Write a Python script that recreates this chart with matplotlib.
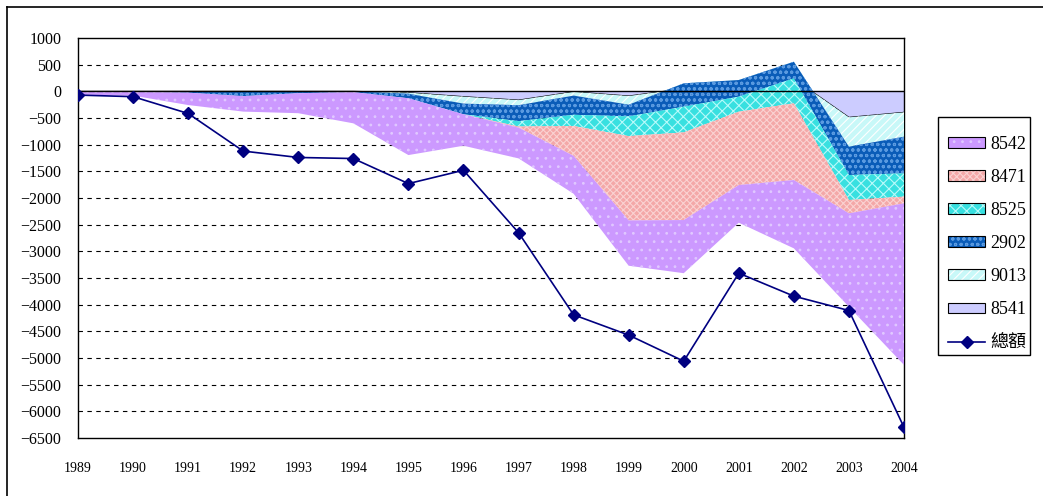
import matplotlib
matplotlib.use("Agg")
import matplotlib.pyplot as plt
import numpy as np
from matplotlib.lines import Line2D
from matplotlib.patches import Patch, Rectangle
from matplotlib.legend_handler import HandlerTuple

years = list(range(1989, 2005))

# stacked series, first one sits next to the zero line
s8541 = [0, 0, 0, 0, 0, 0, -25, -100, -165, -10, -88, 50, 100, 235, -488, -394]
s9013 = [0, 0, 0, 0, 0, 0, -20, -130, -95, -70, -162, 100, 112, 320, -550, -456]
s2902 = [-5, -10, -25, -90, -35, -15, -85, -200, -300, -360, -220, -438, -312, -311, -531, -688]
s8525 = [0, 0, 0, 0, 0, 0, 0, 0, -100, -210, -370, -482, -282, -469, -469, -437]
s8471 = [0, 0, 0, 0, 0, 0, 0, 0, -20, -560, -1580, -1643, -1375, -1438, -250, -125]
s8542 = [-55, -70, -232, -290, -375, -585, -1065, -590, -577, -710, -850, -997, -706, -1281, -1752, -3030]
total = [-70, -100, -415, -1120, -1240, -1260, -1730, -1480, -2650, -4190, -4570, -5060, -3410, -3840, -4110, -6300]

series = [
    ("8541", s8541, "#CCCCFF", None, "#CCCCFF"),
    ("9013", s9013, "#C8F8F8", "////", "#FFFFFF"),
    ("2902", s2902, "#0A5CB8", "ooo", "#5A9AE0"),
    ("8525", s8525, "#38E0E0", "xxx", "#B8FAFA"),
    ("8471", s8471, "#F4A8A8", "xxxxx", "#FAD2D2"),
    ("8542", s8542, "#CC99FF", "..", "#E0C8FF"),
]
legend_order = ["8542", "8471", "8525", "2902", "9013", "8541"]

plt.rcParams["font.family"] = ["Liberation Serif", "Noto Sans CJK TC"]
plt.rcParams["hatch.linewidth"] = 0.8


def main():
    W, H = 1043, 496
    fig = plt.figure(figsize=(W / 100, H / 100), dpi=100)
    ax = fig.add_axes([78 / W, 1 - 438 / H, 826 / W, 400 / H])

    x = np.array(years)
    prev = np.zeros(len(years))
    for i, (name, vals, fc, hatch, hc) in enumerate(series):
        cur = prev + np.array(vals)
        ax.fill_between(x, prev, cur, facecolor=fc, edgecolor=hc, hatch=hatch,
                        linewidth=0, zorder=2 + i)
        if name == "8541":
            ax.plot(x, cur, color="black", lw=0.8, zorder=2.5)
        prev = cur

    ax.axhline(0, color="black", lw=1.0, zorder=10)
    ax.plot(x, total, color="#000080", lw=1.2, marker="D", markersize=6.5,
            markerfacecolor="#000080", markeredgecolor="#000080", zorder=11)

    ax.set_xlim(1989, 2004)
    ax.set_ylim(-6500, 1000)
    ax.set_xticks(years)
    ax.set_xticklabels([str(y) for y in years], fontsize=10)
    ax.set_yticks(np.arange(-6500, 1001, 500))
    ax.tick_params(axis="y", length=0, pad=12, labelsize=11.5)
    ax.tick_params(axis="x", length=0, pad=17)
    for yv in np.arange(-6000, 1000, 500):
        if yv != 0:
            ax.axhline(yv, color="black", lw=0.8, linestyle=(0, (4, 4)), zorder=1)
    for sp in ax.spines.values():
        sp.set_linewidth(1.0)
        sp.set_color("black")

    handles = []
    labels = []
    lookup = {s[0]: s for s in series}
    for name in legend_order:
        _, _, fc, hatch, hc = lookup[name]
        fill = Patch(facecolor=fc, hatch=hatch, edgecolor=hc, linewidth=0)
        edge = Patch(facecolor="none", edgecolor="black", linewidth=0.8)
        handles.append((fill, edge))
        labels.append(name)
    handles.append(Line2D([], [], color="#000080", lw=1.2, marker="D",
                          markersize=6, markerfacecolor="#000080"))
    labels.append("總額")

    # legend frame drawn by hand so the padding matches
    fig.add_artist(Rectangle((938 / W, 1 - 355 / H), 92 / W, 238 / H,
                             transform=fig.transFigure, facecolor="white",
                             edgecolor="black", linewidth=1.0, zorder=4))
    fig.legend(handles, labels, loc="upper left",
               bbox_to_anchor=(948 / W, 1 - 136 / H),
               handler_map={tuple: HandlerTuple(ndivide=1, pad=0)},
               fontsize=13, frameon=False,
               handlelength=2.05, handleheight=0.55, labelspacing=0.89,
               handletextpad=0.28, borderpad=0, borderaxespad=0)

    fig.add_artist(Line2D([6.5 / W, 6.5 / W], [0, 1 - 7 / H],
                          color="black", lw=1.2))
    fig.add_artist(Line2D([6.5 / W, 1], [1 - 7 / H, 1 - 7 / H],
                          color="black", lw=1.2))

    fig.savefig("out.png", dpi=100)
    plt.close(fig)


if __name__ == "__main__":
    main()
